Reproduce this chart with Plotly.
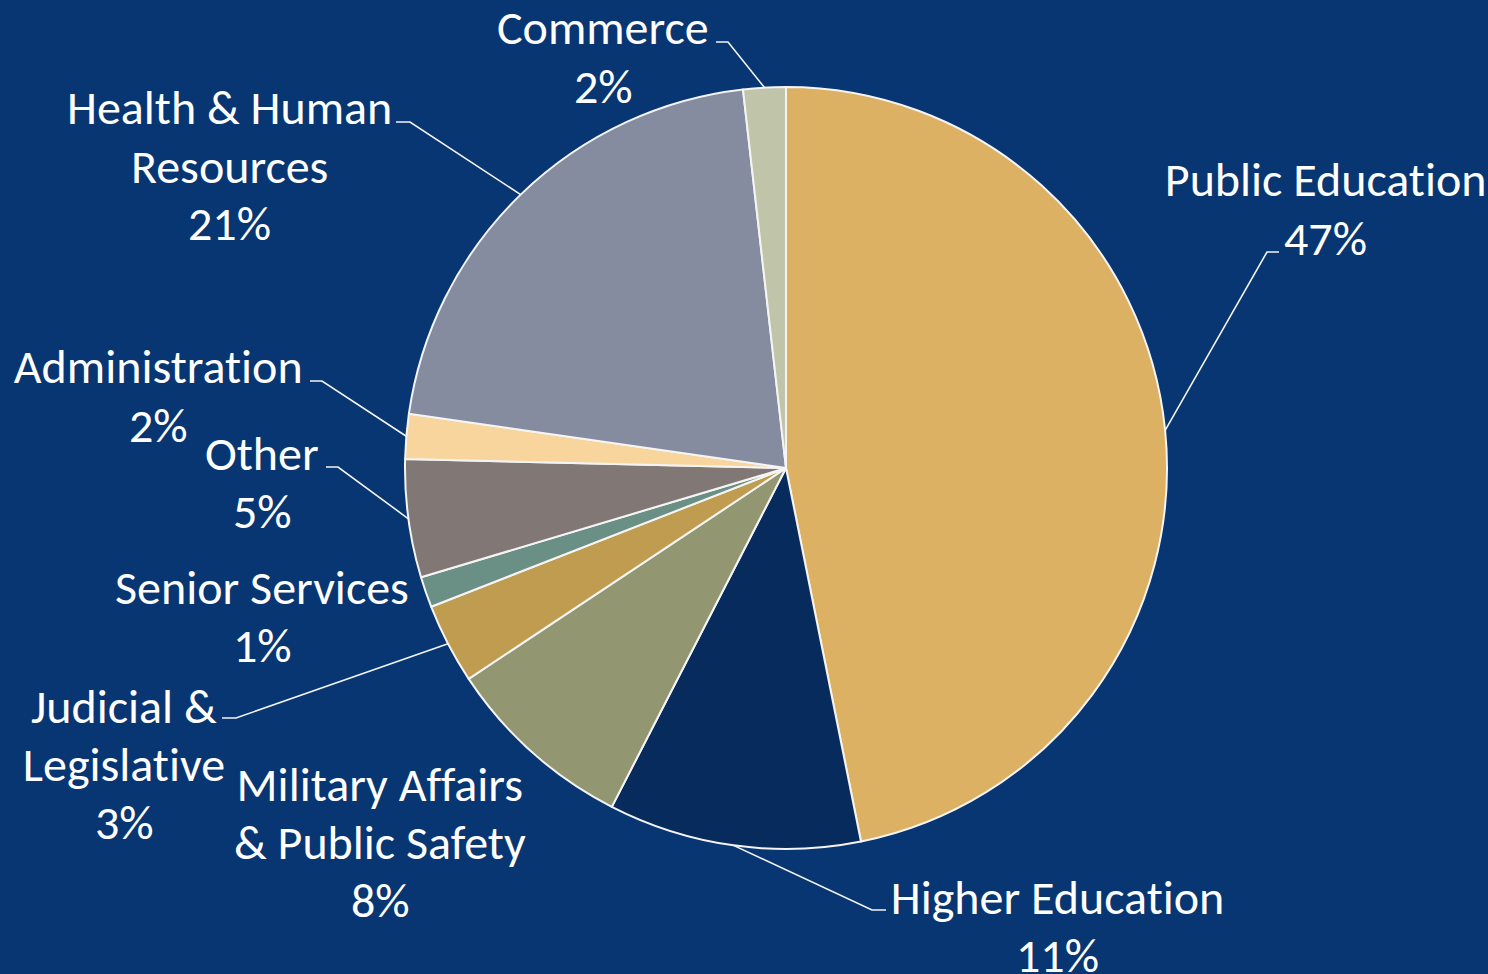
import math
import plotly.graph_objects as go

# ---- data ----
categories = ["Public Education", "Higher Education", "Military Affairs<br>& Public Safety",
              "Judicial &<br>Legislative", "Senior Services", "Other", "Administration",
              "Health & Human<br>Resources", "Commerce"]
values = [46.8, 10.7, 8.1, 3.4, 1.3, 5.0, 1.9, 20.9, 1.8]
colors = ["#DCB163", "#082B5E", "#939771", "#BF9C50", "#6A9086", "#817876", "#F8D59D",
          "#858CA0", "#C0C4A9"]

# ---- layout (pixels) ----
W, H = 1488, 974
BG = "#083672"
CX, CY, R = 786, 468, 381
FONT = "Carlito, Lato"
FS = 48
LINE_H = 58
# label centre x, first line centre y
label_pos = [(1325, 180), (1057, 897), (380, 784), (124, 706), (262, 587),
             (262, 453), (158, 367), (229, 108), (603, 28)]
# leader line: elbow point and stub end (None = no leader)
leaders = [((1267, 252), (1279, 252)), ((872, 910), (886, 910)), None,
           ((236, 718), (222, 718)), None, ((338, 467), (326, 467)),
           ((322, 381), (310, 381)), ((410, 122), (396, 122)), ((728, 42), (716, 42))]


def px(x):
    return x / W


def py(y):
    return 1 - y / H


fig = go.Figure(go.Pie(
    labels=[c.replace("<br>", " ") for c in categories],
    values=values,
    sort=False,
    direction="clockwise",
    rotation=0,
    marker=dict(colors=colors, line=dict(color="#F4F4F4", width=2)),
    textinfo="none",
    hoverinfo="label+percent",
    showlegend=False,
    domain=dict(x=[px(CX - R), px(CX + R)], y=[py(CY + R), py(CY - R)]),
))

total = sum(values)
annotations = []
shapes = []
cum = 0.0
for i, (cat, v) in enumerate(zip(categories, values)):
    mid = (cum + v / 2) / total * 2 * math.pi
    cum += v
    lines = cat.split("<br>") + [f"{round(v / total * 100):d}%"]
    lx, ly = label_pos[i]
    for j, t in enumerate(lines):
        annotations.append(dict(
            x=px(lx), y=py(ly + j * LINE_H), xref="paper", yref="paper",
            text=t, showarrow=False, xanchor="center", yanchor="middle",
            font=dict(family=FONT, size=FS, color="white"),
        ))
    if leaders[i] is not None:
        (ex, ey), (sx, sy) = leaders[i]
        ox = CX + R * math.sin(mid)
        oy = CY - R * math.cos(mid)
        path = f"M {px(ox)} {py(oy)} L {px(ex)} {py(ey)} L {px(sx)} {py(sy)}"
        shapes.append(dict(type="path", xref="paper", yref="paper", path=path,
                           line=dict(color="#F4F4F4", width=1.6)))

fig.update_layout(
    width=W, height=H,
    margin=dict(l=0, r=0, t=0, b=0),
    paper_bgcolor=BG, plot_bgcolor=BG,
    annotations=annotations,
    shapes=shapes,
)

fig.write_html("out.html",
               config=dict(displayModeBar=False),
               post_script="document.body.style.margin='0';"
                           "document.body.style.overflow='hidden';"
                           f"document.body.style.background='{BG}';"
                           "var s=document.createElement('style');"
                           "s.textContent='text{font-variant-ligatures:none;font-feature-settings:\"liga\" 0;}';"
                           "document.head.appendChild(s);")
